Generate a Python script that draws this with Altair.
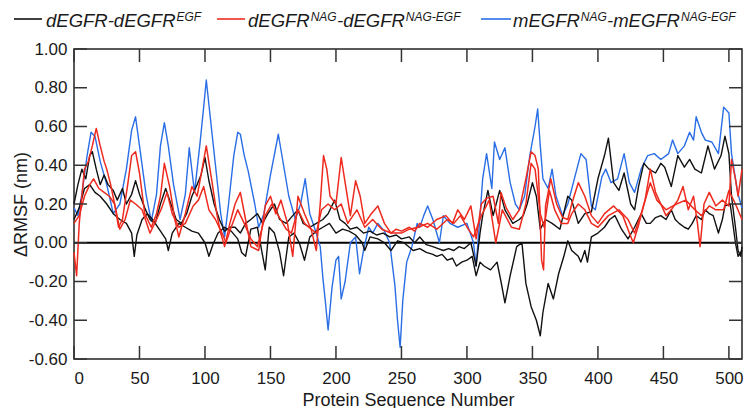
import altair as alt
import pandas as pd

# ---------------- data ----------------
blue_x = [0,3,6,10,13,16,20,25,30,35,40,44,47,50,55,59,63,66,69,72,76,81,85,88,92,96,99,101,104,108,112,115,118,122,125,127,130,133,138,141,145,150,156,160,164,169,173,176.5,180,184,188,190,192,194,197,200,202,204,207,211,215,218,221,225,228,232,237,241,245,247,249,251,254,258,262,264,267,270,274,279,282,287,293,300,305,307,310,312,315,319,321,325,329,333,337,340,344,348,352,354,356,358,362,365,368,373,377,382,387,391,395,398,403,406,410,415,420,424,428,433,438,443,448,454,457,461,466,470,473,475,479,482,487,492,496,500,502,505,507,510]
blue_y = [0.18,0.14,0.25,0.45,0.57,0.55,0.42,0.30,0.15,0.20,0.38,0.58,0.65,0.50,0.25,0.11,0.25,0.50,0.62,0.50,0.30,0.12,0.25,0.49,0.26,0.50,0.70,0.84,0.65,0.40,0.15,0.03,0.20,0.45,0.57,0.56,0.45,0.37,0.20,0.08,0.15,0.35,0.56,0.40,0.24,0.12,0.20,0.33,0.15,0.07,-0.02,-0.18,-0.31,-0.45,-0.23,-0.09,-0.07,-0.29,-0.20,0.00,0.03,-0.16,-0.04,0.08,0.05,0.10,0.06,0.00,-0.22,-0.40,-0.54,-0.30,-0.10,-0.02,0.10,0.08,0.14,0.19,0.12,0.00,0.14,0.10,0.08,0.10,0.00,-0.12,0.14,0.33,0.46,0.28,0.52,0.43,0.49,0.31,0.20,0.17,0.24,0.45,0.60,0.69,0.50,0.33,0.28,0.38,0.24,0.14,0.20,0.33,0.46,0.43,0.19,0.17,0.34,0.38,0.31,0.33,0.46,0.31,0.26,0.38,0.45,0.46,0.43,0.46,0.53,0.46,0.50,0.57,0.53,0.65,0.57,0.53,0.52,0.46,0.70,0.67,0.46,0.33,0.25,0.18]

blackA_x = [0,3,6,9,12,14,17,20,23,26,30,33,37,40,44,47,50,54,58,62,66,70,74,78,82,86,90,94,97,100,103,107,111,115,119,123,127,131,135,140,144,148,153,157,162,167,171,175,180,185,190,194,199,203,207,211,216,221,226,231,236,241,246,250,256,260,264,269,274,278,282,286,290,294,298,303,307,310,312,316,320,325,329,335,340,343,346,350,353,356,360,365,371,377,380,385,390,395,400,405,408,412,416,420,425,428,431,435,439,444,448,451,456,461,466,470,474,479,484,489,494,497,500,502,505,507,509,510]
blackA_y = [0.20,0.30,0.38,0.33,0.45,0.47,0.38,0.30,0.35,0.30,0.27,0.22,0.28,0.20,0.25,0.32,0.25,0.18,0.12,0.10,0.20,0.28,0.20,0.12,0.10,0.15,0.24,0.30,0.35,0.44,0.32,0.20,0.12,0.06,0.08,0.08,0.05,0.10,0.12,0.15,0.10,0.15,0.20,0.12,0.10,0.14,0.17,0.10,0.08,0.10,0.12,0.15,0.22,0.12,0.10,0.07,0.08,0.05,0.06,0.04,0.05,0.03,0.04,0.02,0.03,0.00,0.03,-0.01,-0.02,-0.03,-0.04,-0.03,-0.04,-0.02,-0.03,0.00,-0.12,0.05,0.14,0.27,0.14,0.27,0.17,0.10,0.12,0.14,0.20,0.31,0.24,0.07,0.12,0.10,0.07,0.24,0.22,0.10,0.15,0.16,0.33,0.45,0.54,0.31,0.27,0.36,0.20,0.17,0.29,0.41,0.38,0.36,0.41,0.39,0.29,0.45,0.39,0.43,0.38,0.36,0.50,0.38,0.45,0.55,0.46,0.24,0.08,-0.04,-0.07,-0.02]

blackB_x = [0,4,8,12,16,20,25,30,35,40,44,46,48,52,56,60,65,70,72,75,80,85,90,95,100,103,106,110,115,120,125,128,131,135,140,146,149,153,157,160,164,168,172,176,180,185,190,195,200,205,210,215,220,222,226,232,237,242,247,252,259,264,269,274,277,281,285,289,292,296,300,304,307,310,313,318,323,326,329,333,338,342,345,349,353,356,358,362,366,370,374,377,380,385,387,390,392,395,400,405,409,413,418,423,428,433,437,440,444,448,452,456,459,462,466,469,472,475,479,482,485,488,492,495,497,501,505,507,510]
blackB_y = [0.12,0.18,0.28,0.30,0.26,0.24,0.20,0.15,0.12,0.10,0.05,-0.07,0.04,0.12,0.15,0.12,0.07,0.02,-0.04,0.05,0.10,0.08,0.06,0.05,0.00,-0.07,-0.01,0.05,0.08,0.06,0.02,-0.05,-0.07,0.07,0.08,-0.14,0.08,0.05,-0.05,-0.17,0.03,0.05,0.00,-0.09,0.03,0.06,0.08,0.10,0.05,0.07,0.06,0.04,0.00,-0.04,0.03,0.02,0.00,-0.04,0.01,0.00,-0.04,-0.03,-0.05,-0.06,-0.07,-0.06,-0.09,-0.08,-0.12,-0.10,-0.09,-0.07,-0.17,-0.10,-0.12,-0.14,-0.10,-0.20,-0.31,-0.17,-0.02,0.00,-0.21,-0.33,-0.40,-0.48,-0.36,-0.21,-0.29,-0.16,-0.07,0.01,-0.04,-0.07,-0.10,-0.04,-0.10,0.03,0.05,0.08,0.12,0.14,0.07,0.02,0.08,0.15,0.10,0.10,0.13,0.14,0.12,0.17,0.12,0.10,0.08,0.07,0.10,0.14,0.12,0.17,0.15,0.14,0.05,0.12,0.19,0.20,0.00,-0.07,-0.04]

redA_x = [0,2,4,8,11,14,17,20,23,25,28,31,34,37,41,44,47,50,54,59,63,66,69,73,77,80,85,90,94,97,101,105,109,112,115,119,123,127,131,135,141,146,150,154,158,163,167,171,176,181,185,188,190.5,193,195.5,200,204,207,211,215,218.5,222,227,232,237,242,246,250,256,260,264,270,277,284,289,293,298,303,307,311,315,320,324,326,330,335,340,345,349,352,354.5,356,357,358.5,360,364,368.5,373,377,380,385,390,395,400,405,412,419,424,427,431,436,440,444,448,452,456,461,465,469,473,476,478,481,485,490,495,500,502,505,507,510]
redA_y = [-0.05,-0.17,0.10,0.38,0.42,0.50,0.59,0.50,0.42,0.38,0.30,0.20,0.08,0.12,0.30,0.45,0.47,0.36,0.15,0.08,0.15,0.24,0.41,0.29,0.12,0.03,0.15,0.29,0.24,0.35,0.50,0.33,0.15,0.05,-0.02,0.10,0.20,0.26,0.12,-0.02,-0.04,0.19,0.24,0.15,0.22,0.10,-0.07,0.24,0.15,0.07,-0.04,0.20,0.45,0.38,0.24,0.20,0.44,0.31,0.14,0.32,0.24,0.10,0.15,0.19,0.10,0.05,0.07,0.06,0.08,0.06,0.10,0.08,0.12,0.14,0.10,0.17,0.12,0.19,0.02,0.20,0.23,0.24,0.10,0.26,0.18,0.12,0.17,0.33,0.47,0.45,0.38,0.10,-0.09,-0.14,0.19,0.33,0.20,0.13,0.12,0.20,0.31,0.24,0.14,0.10,0.15,0.19,0.14,0.05,0.00,0.09,0.22,0.38,0.26,0.20,0.14,0.17,0.22,0.29,0.17,0.24,0.10,-0.02,0.20,0.26,0.19,0.22,0.19,0.43,0.33,0.24,0.38]

redB_x = [0,4,8,12,15,19,23,27,31,35,39,43,47,52,58,63,67,71,75,80,85,91,95,99,103,108,113,116,120,125,130,135,140,146,151,156,162,166,171,176,181,185,189,194,199,204,209,216,222,228,235,242,250,256,263,270,277,285,290,295,301,305,311,317,322,327,334,340,345,349,352,356,359,363,367,372,377,380,385,390,395,400,408,416,423,428,433,440,445,452,460,467,474,479,485,490,496,500,505,510]
redB_y = [0.10,0.14,0.24,0.30,0.33,0.28,0.26,0.24,0.20,0.07,0.12,0.22,0.20,0.17,0.05,0.12,0.18,0.26,0.15,0.08,0.10,0.19,0.22,0.29,0.17,0.12,0.05,0.00,0.08,0.17,0.10,0.02,-0.02,0.14,0.20,0.14,0.07,0.05,0.17,0.10,0.07,0.05,0.17,0.20,0.17,0.20,0.10,0.17,0.08,0.12,0.07,0.05,0.05,0.07,0.08,0.10,0.07,0.12,0.10,0.14,0.07,0.03,0.14,0.22,0.00,0.17,0.08,0.07,0.20,0.41,0.38,0.15,0.08,0.27,0.17,0.10,0.10,0.15,0.20,0.17,0.10,0.08,0.14,0.17,0.12,0.05,0.15,0.31,0.22,0.17,0.20,0.22,0.17,0.14,0.19,0.17,0.17,0.27,0.20,0.12]

x_ticks = [0, 50, 100, 150, 200, 250, 300, 350, 400, 450, 500]
y_ticks = [-0.6, -0.4, -0.2, 0.0, 0.2, 0.4, 0.6, 0.8, 1.0]

# ---------------- chart ----------------
W, H = 668, 310
FONT = "Liberation Sans"
TXT = "#1a1a1a"
C_BLACK, C_RED, C_BLUE = "#111111", "#ee2a1e", "#2a6ee6"

x_scale = alt.Scale(domain=[0, 510], nice=False, zero=False)
y_scale = alt.Scale(domain=[-0.6, 1.0], nice=False, zero=False)

x_axis = alt.Axis(values=x_ticks, title="Protein Sequence Number", ticks=False, tickSize=0,
                  domain=False, grid=False, labelFontSize=17, labelFont=FONT, labelColor=TXT,
                  labelPadding=11, titleFontSize=18, titleFont=FONT, titleFontWeight="normal",
                  titleColor=TXT, titleY=46, titleBaseline="alphabetic")
y_axis = alt.Axis(values=y_ticks, title="ΔRMSF (nm)", ticks=False, tickSize=0, domain=False,
                  grid=False, labelFontSize=17, labelFont=FONT, labelColor=TXT, labelPadding=7,
                  labelExpr="(datum.value < 0 ? '-' : '') + format(abs(datum.value), '.2f')",
                  titleFontSize=18, titleFont=FONT, titleFontWeight="normal", titleColor=TXT,
                  titleX=-53, titleY=H / 2, titleAngle=-90, titleBaseline="middle", titleAlign="center")

X = alt.X("x:Q", scale=x_scale, axis=x_axis)
Y = alt.Y("y:Q", scale=y_scale, axis=y_axis)


def line_layer(xs, ys, color, width):
    df = pd.DataFrame({"x": xs, "y": ys})
    return alt.Chart(df).mark_line(color=color, strokeWidth=width, strokeJoin="round").encode(
        x=X, y=Y, order="x:Q")


layers = []
layers.append(alt.Chart(pd.DataFrame({"y": [0.0]})).mark_rule(color="#000", strokeWidth=2).encode(y=Y))
layers.append(line_layer(blue_x, blue_y, C_BLUE, 1.4))
layers.append(line_layer(blackA_x, blackA_y, C_BLACK, 1.4))
layers.append(line_layer(blackB_x, blackB_y, C_BLACK, 1.4))
layers.append(line_layer(redA_x, redA_y, C_RED, 1.5))
layers.append(line_layer(redB_x, redB_y, C_RED, 1.5))

# inward tick marks on all four sides
xt = pd.DataFrame({"x": x_ticks})
yt = pd.DataFrame({"y": y_ticks})
TICK = 13
tick_style = dict(color="#333", strokeWidth=1.5)
layers.append(alt.Chart(xt).mark_rule(**tick_style).encode(x=X, y=alt.value(H), y2=alt.value(H - TICK)))
layers.append(alt.Chart(xt).mark_rule(**tick_style).encode(x=X, y=alt.value(0), y2=alt.value(TICK)))
layers.append(alt.Chart(yt).mark_rule(**tick_style).encode(y=Y, x=alt.value(0), x2=alt.value(TICK)))
layers.append(alt.Chart(yt).mark_rule(**tick_style).encode(y=Y, x=alt.value(W), x2=alt.value(W - TICK)))

# custom legend with superscripts (positions relative to the plot area)
one = pd.DataFrame({"k": [0]})
LINE_Y = -30
legend_lines = [(-60, -32, C_BLACK), (143, 171, C_RED), (407, 437, C_BLUE)]
for x0, x1, c in legend_lines:
    layers.append(alt.Chart(one).mark_rule(color=c, strokeWidth=1.6).encode(
        x=alt.value(x0), x2=alt.value(x1), y=alt.value(LINE_Y)))

MAIN_Y, SUP_Y = -22.5, -28.5
MAIN_FS, SUP_FS = 18.5, 12
legend_text = [
    ("dEGFR-dEGFR", -28, MAIN_Y, MAIN_FS),
    ("EGF", 102.5, SUP_Y, SUP_FS),
    ("dEGFR", 174, MAIN_Y, MAIN_FS),
    ("NAG", 236.7, SUP_Y, SUP_FS),
    ("-dEGFR", 263, MAIN_Y, MAIN_FS),
    ("NAG-EGF", 331.8, SUP_Y, SUP_FS),
    ("mEGFR", 439, MAIN_Y, MAIN_FS),
    ("NAG", 506.8, SUP_Y, SUP_FS),
    ("-mEGFR", 533, MAIN_Y, MAIN_FS),
    ("NAG-EGF", 607, SUP_Y, SUP_FS),
]
for t, tx, ty, fs in legend_text:
    layers.append(alt.Chart(one).mark_text(text=t, align="left", baseline="alphabetic",
                                           font=FONT, fontSize=fs, fontStyle="italic",
                                           color=TXT).encode(x=alt.value(tx), y=alt.value(ty)))

chart = alt.layer(*layers).properties(
    width=W, height=H,
    autosize=alt.AutoSizeParams(type="none"),
    padding={"left": 66, "top": 41, "right": 2, "bottom": 49},
).configure_view(stroke="#222", strokeWidth=1.5)

chart.save("out.html", embed_options={"renderer": "svg", "actions": False})
